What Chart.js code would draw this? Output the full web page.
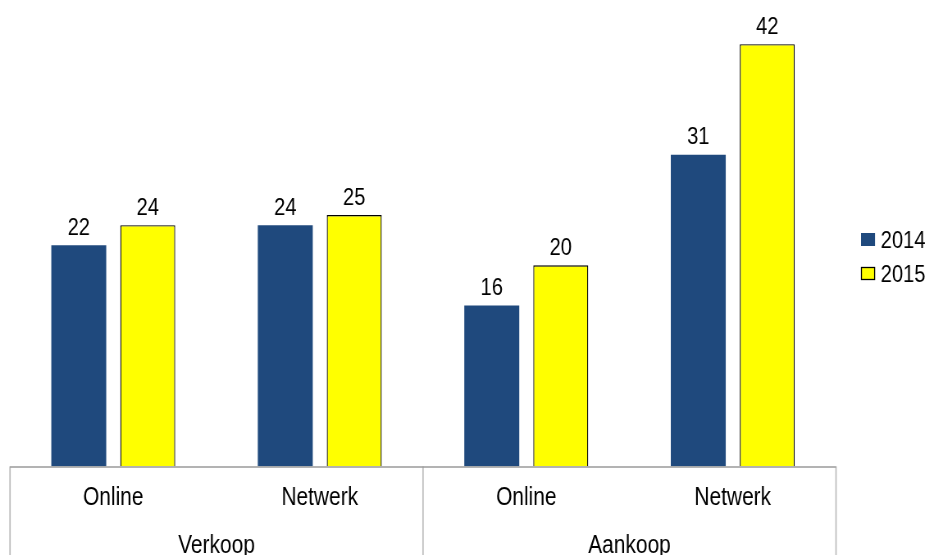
<!DOCTYPE html>
<html>
<head>
<meta charset="utf-8">
<script src="https://cdn.jsdelivr.net/npm/chart.js@4"></script>
<style>
html,body{margin:0;padding:0;background:#fff;overflow:hidden;width:928px;height:555px;}
#wrap{width:928px;height:555px;overflow:hidden;position:relative;}
canvas{display:block;transform-origin:0 0;transform:scaleX(0.82);}
</style>
</head>
<body>
<div id="wrap"><canvas id="c" width="1132" height="562"></canvas></div>
<script>
const categories = ["Online", "Netwerk", "Online", "Netwerk"];
const groups = ["Verkoop", "Aankoop"];
const seriesNames = ["2014", "2015"];
const values2014 = [22, 24, 16, 31];
const values2015 = [24, 25, 20, 42];

const FONT = "'Liberation Sans', Arial, sans-serif";
const SX = 0.82; // horizontal condensing applied to the canvas (narrow font look)

const valueLabels = {
  id: 'valueLabels',
  afterDatasetsDraw(chart) {
    const ctx = chart.ctx;
    ctx.save();
    ctx.font = "24.5px " + FONT;
    ctx.fillStyle = "#000";
    ctx.textAlign = "center";
    ctx.textBaseline = "alphabetic";
    chart.data.datasets.forEach((ds, i) => {
      chart.getDatasetMeta(i).data.forEach((bar, j) => {
        ctx.fillText(String(ds.data[j]), bar.x, bar.y - 10.5);
      });
    });
    ctx.restore();
  }
};

const separators = {
  id: 'separators',
  afterDraw(chart) {
    const ctx = chart.ctx;
    const x = chart.scales.x;
    const n = categories.length;
    const bounds = [x.left, (x.getPixelForValue(n / 2 - 1) + x.getPixelForValue(n / 2)) / 2, x.right];
    ctx.save();
    ctx.strokeStyle = "#bfbfbf";
    ctx.lineWidth = 1.8;
    bounds.forEach(b => {
      ctx.beginPath();
      ctx.moveTo(b, chart.chartArea.bottom);
      ctx.lineTo(b, chart.height);
      ctx.stroke();
    });
    ctx.strokeStyle = "#9a9a9a";
    ctx.lineWidth = 1.5;
    ctx.beginPath();
    ctx.moveTo(x.left, chart.chartArea.bottom + 0.5);
    ctx.lineTo(x.right, chart.chartArea.bottom + 0.5);
    ctx.stroke();
    ctx.restore();
  }
};

const sideLegend = {
  id: 'sideLegend',
  afterDraw(chart) {
    const ctx = chart.ctx;
    const left = chart.chartArea.right + 30.5;
    const top0 = 233;
    const step = 34;
    const bw = 14 / SX;
    ctx.save();
    ctx.font = "24.5px " + FONT;
    ctx.textAlign = "left";
    ctx.textBaseline = "alphabetic";
    chart.data.datasets.forEach((ds, i) => {
      const y = top0 + i * step;
      ctx.fillStyle = ds.backgroundColor;
      ctx.fillRect(left, y, bw, 13);
      if (ds.borderWidth) {
        ctx.strokeStyle = ds.borderColor;
        ctx.lineWidth = 1.3;
        ctx.strokeRect(left + 0.5, y + 0.5, bw - 1, 12);
      }
      ctx.fillStyle = "#000";
      ctx.fillText(ds.label, left + 24, y + 14.8);
    });
    ctx.restore();
  }
};

new Chart(document.getElementById('c'), {
  type: 'bar',
  data: {
    labels: categories,
    datasets: [
      { label: seriesNames[0], data: values2014, backgroundColor: "#1F497D", borderWidth: 0 },
      { label: seriesNames[1], data: values2015, backgroundColor: "#FFFF00", borderColor: "#000000", borderWidth: 1.3 }
    ]
  },
  options: {
    responsive: false,
    animation: false,
    devicePixelRatio: 1,
    layout: { padding: { left: 10 / SX, right: 1132 - 836 / SX, top: 4, bottom: 0 } },
    plugins: { legend: { display: false }, tooltip: { enabled: false } },
    datasets: { bar: { categoryPercentage: 0.668, barPercentage: 0.797 } },
    scales: {
      y: { display: false, min: 0, max: 46 },
      x: {
        weight: 0,
        grid: { display: false, drawTicks: false },
        border: { display: false },
        ticks: { padding: 16.2, color: "#000", font: { family: FONT, size: 25.5, lineHeight: 1.2 }, maxRotation: 0, autoSkip: false }
      },
      x2: {
        type: 'category',
        labels: groups,
        position: 'bottom',
        weight: 1,
        offset: true,
        grid: { display: false, drawTicks: false },
        border: { display: false },
        ticks: { padding: 1, color: "#000", font: { family: FONT, size: 25.5, lineHeight: 1.2 }, maxRotation: 0, autoSkip: false }
      }
    }
  },
  plugins: [valueLabels, separators, sideLegend]
});
</script>
</body>
</html>
